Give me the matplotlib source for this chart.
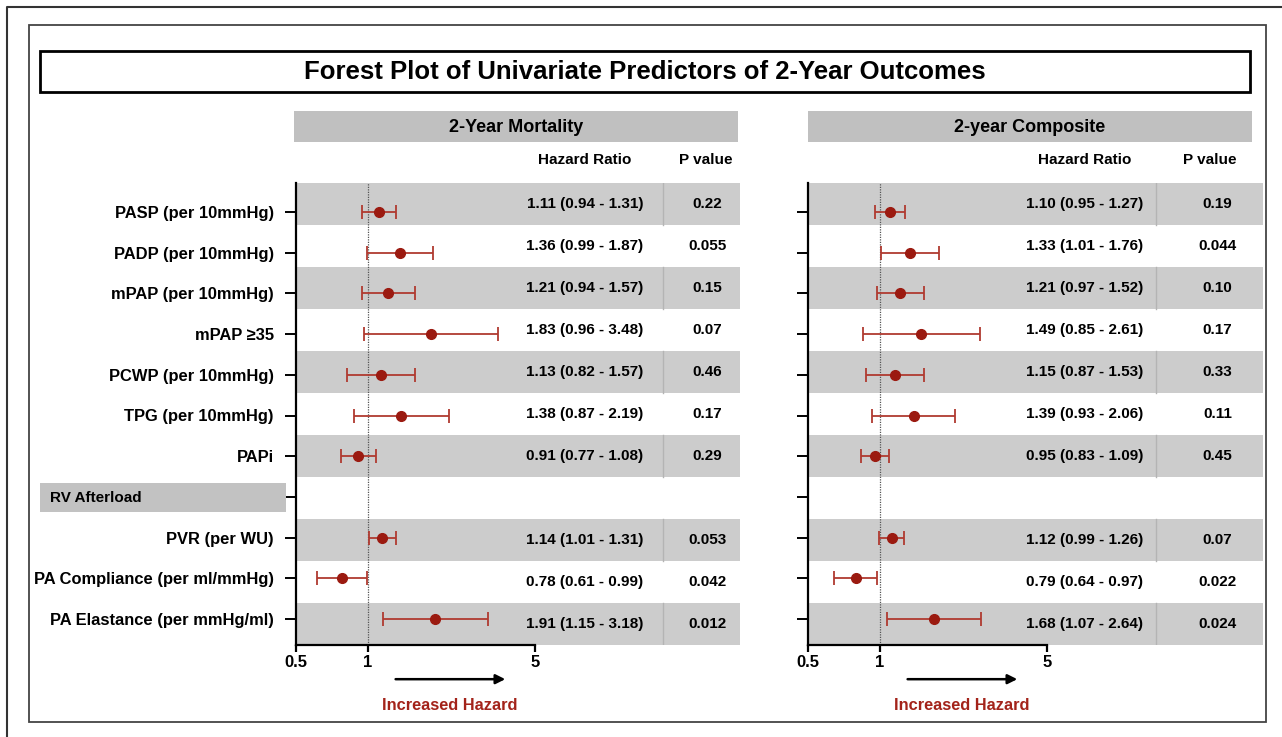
import numpy as np
import matplotlib
matplotlib.use("Agg")
import matplotlib.pyplot as plt
from matplotlib.patches import Rectangle

plt.rcParams['font.family'] = ['Liberation Sans', 'DejaVu Sans']
plt.rcParams['font.weight'] = 'bold'

# ---- data ----
labels = ["PASP (per 10mmHg)", "PADP (per 10mmHg)", "mPAP (per 10mmHg)", "mPAP \u226535",
          "PCWP (per 10mmHg)", "TPG (per 10mmHg)", "PAPi", "",
          "PVR (per WU)", "PA Compliance (per ml/mmHg)", "PA Elastance (per mmHg/ml)"]

mort_hr = [1.11, 1.36, 1.21, 1.83, 1.13, 1.38, 0.91, np.nan, 1.14, 0.78, 1.91]
mort_lo = [0.94, 0.99, 0.94, 0.96, 0.82, 0.87, 0.77, np.nan, 1.01, 0.61, 1.15]
mort_hi = [1.31, 1.87, 1.57, 3.48, 1.57, 2.19, 1.08, np.nan, 1.31, 0.99, 3.18]
mort_p = ["0.22", "0.055", "0.15", "0.07", "0.46", "0.17", "0.29", "", "0.053", "0.042", "0.012"]

comp_hr = [1.10, 1.33, 1.21, 1.49, 1.15, 1.39, 0.95, np.nan, 1.12, 0.79, 1.68]
comp_lo = [0.95, 1.01, 0.97, 0.85, 0.87, 0.93, 0.83, np.nan, 0.99, 0.64, 1.07]
comp_hi = [1.27, 1.76, 1.52, 2.61, 1.53, 2.06, 1.09, np.nan, 1.26, 0.97, 2.64]
comp_p = ["0.19", "0.044", "0.10", "0.17", "0.33", "0.11", "0.45", "", "0.07", "0.022", "0.024"]

gap_row = 7
xticks = [0.5, 1, 5]
xtick_labels = ["0.5", "1", "5"]

W, H = 1282, 737
fig = plt.figure(figsize=(W / 100, H / 100), dpi=100)


def fx(px):
    return px / W


def fy(py):
    return 1 - py / H


def rect(x0, y0, x1, y1, **kw):
    fig.patches.append(Rectangle((fx(x0), fy(y1)), fx(x1) - fx(x0), fy(y0) - fy(y1),
                                 transform=fig.transFigure, **kw))


# frames and title box
fig.add_artist(plt.Line2D([fx(7), fx(7), fx(W)], [fy(H), fy(7), fy(7)], color='#333333', lw=1.5))
rect(29, 25, 1266, 722, fill=False, ec='#444444', lw=1.3)
rect(40, 51, 1250, 92, fill=False, ec='black', lw=2)
fig.text(fx(645), fy(72), "Forest Plot of Univariate Predictors of 2-Year Outcomes",
         ha='center', va='center', fontsize=18.5, fontweight='bold')

# RV Afterload section box
rect(40, 483, 286, 512, fc='#c2c2c2', ec='none')
fig.text(fx(50), fy(497.5), "RV Afterload", ha='left', va='center', fontsize=11)

red = '#9b1a10'
ered = '#b03a30'
band = '#cccccc'

panels = [
    dict(title="2-Year Mortality", x0=296, x1=740, hx=(294, 738), hr=mort_hr, lo=mort_lo, hi=mort_hi,
         p=mort_p, hr_x=0.651, div_x=0.827, p_x=0.926, head_hr=585, head_p=706, show_labels=True),
    dict(title="2-year Composite", x0=808, x1=1263, hx=(808, 1252), hr=comp_hr, lo=comp_lo, hi=comp_hi,
         p=comp_p, hr_x=0.608, div_x=0.765, p_x=0.90, head_hr=1085, head_p=1210, show_labels=False),
]

top, bot = 183, 645
n = len(labels)
rows = np.arange(n)

for pn in panels:
    pos = [fx(pn['x0']), fy(bot), fx(pn['x1']) - fx(pn['x0']), (bot - top) / H]

    # header band + column headings
    rect(pn['hx'][0], 111, pn['hx'][1], 142, fc='#c0c0c0', ec='none')
    fig.text(fx((pn['hx'][0] + pn['hx'][1]) / 2), fy(127), pn['title'], ha='center', va='center', fontsize=13)
    fig.text(fx(pn['head_hr']), fy(160), "Hazard Ratio", ha='center', va='center', fontsize=11)
    fig.text(fx(pn['head_p']), fy(160), "P value", ha='center', va='center', fontsize=11)

    # table axes (bands + text)
    tab = fig.add_axes(pos, zorder=0)
    tab.set_xlim(0, 1)
    tab.set_ylim(n - 0.5, -0.5)
    tab.axis('off')
    for i in rows:
        if i % 2 == 0 and i != gap_row:
            tab.axhspan(i - 0.5, i + 0.5, color=band, lw=0)
            tab.plot([pn['div_x'], pn['div_x']], [i - 0.5, i + 0.5], color='#b4b4b4', lw=1)
        if i == gap_row:
            continue
        txt = f"{pn['hr'][i]:.2f} ({pn['lo'][i]:.2f} - {pn['hi'][i]:.2f})"
        tab.text(pn['hr_x'], i, txt, ha='center', va='center', fontsize=11)
        tab.text(pn['p_x'], i, pn['p'][i], ha='center', va='center', fontsize=11)

    # forest axes
    ax = fig.add_axes(pos, zorder=1)
    ax.patch.set_alpha(0)
    ax.set_xscale('log')
    ax.set_xlim(0.5, 0.5 * 10 ** ((pn['x1'] - pn['x0']) / 239.2))
    pitch = 40.7
    ax.set_ylim(n - 1 + (bot - 619) / pitch, -(212 - top) / pitch)

    hr = np.array(pn['hr'])
    lo = np.array(pn['lo'])
    hi = np.array(pn['hi'])
    ax.errorbar(hr, rows, xerr=[hr - lo, hi - hr], fmt='o', color=red, ms=7,
                ecolor=ered, elinewidth=1.3, capsize=5, capthick=1.3)
    ax.axvline(1, color='#555555', lw=0.9, ls=(0, (1, 1)), zorder=0)

    for s in ['top', 'right']:
        ax.spines[s].set_visible(False)
    ax.spines['left'].set_linewidth(1.6)
    ax.spines['bottom'].set_linewidth(1.6)
    ax.spines['bottom'].set_bounds(0.5, 5)

    ax.set_xticks(xticks)
    ax.set_xticklabels(xtick_labels)
    ax.xaxis.set_minor_locator(matplotlib.ticker.NullLocator())
    ax.tick_params(axis='x', length=5, width=1.6, labelsize=12, pad=2)
    ax.set_yticks(rows)
    if pn['show_labels']:
        ax.set_yticklabels(labels)
    else:
        ax.set_yticklabels([])
    ax.tick_params(axis='y', length=8, width=1.4, labelsize=11.9, pad=8)

    # increased hazard arrow
    ax.annotate("", xy=(3.85, -0.074), xytext=(1.27, -0.074),
                xycoords=('data', 'axes fraction'),
                arrowprops=dict(arrowstyle='-|>', color='black', lw=1.8, mutation_scale=14))
    ax.text(2.2, -0.13, "Increased Hazard", transform=ax.get_xaxis_transform(),
            ha='center', va='center', color='#a3231a', fontsize=11.8)

fig.savefig("out.png", dpi=100)
